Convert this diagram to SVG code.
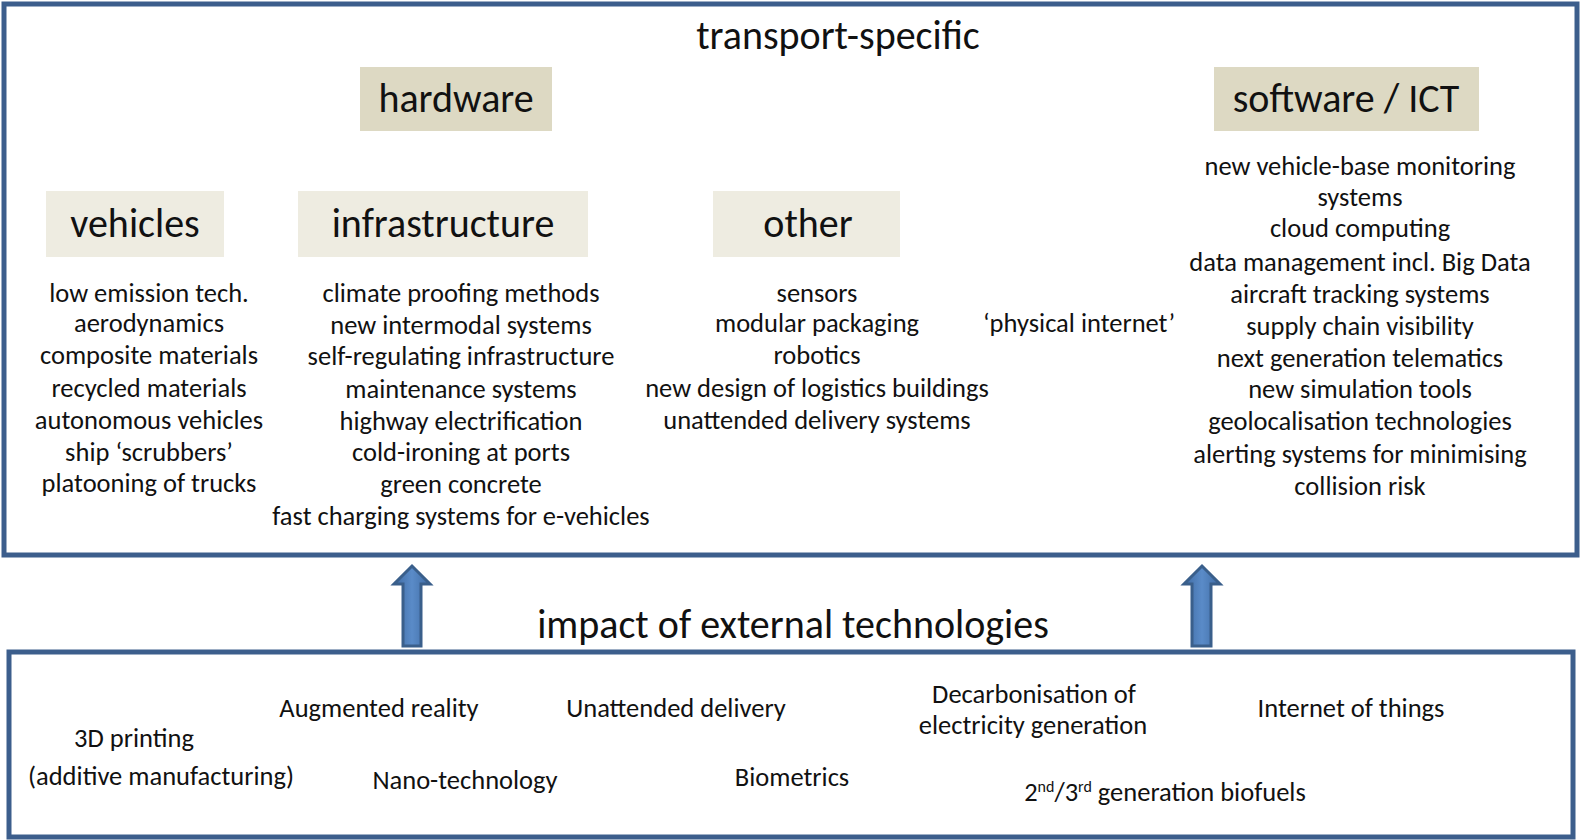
<svg xmlns="http://www.w3.org/2000/svg" width="1581" height="840" viewBox="0 0 1581 840">
<defs>
<style>
.t{font-family:Carlito,Lato,"Open Sans",sans-serif;fill:#111;text-anchor:middle}
.s{font-size:26.5px}
.h{font-size:40px}
.frame{fill:none;stroke:#3C5E8C;stroke-width:5}
.dark{fill:#DDD9C3}
.light{fill:#EEECE1}
.arrow{fill:url(#ag);stroke:#3A5F8B;stroke-width:3;stroke-linejoin:miter}
</style>
<linearGradient id="ag" x1="0" y1="0" x2="1" y2="0">
<stop offset="0" stop-color="#3F6BA3"/>
<stop offset="0.5" stop-color="#5A8BC8"/>
<stop offset="1" stop-color="#3F6BA3"/>
</linearGradient>
</defs>

<g id="transport-specific">
<rect class="frame" x="4" y="4" width="1573" height="551"/>
<text class="t h" x="838" y="49">transport-specific</text>
</g>

<g id="hardware">
<rect class="dark" x="360" y="67" width="192" height="64"/>
<text class="t h" x="456" y="112">hardware</text>
</g>

<g id="software">
<rect class="dark" x="1214" y="67" width="265" height="64"/>
<text class="t h" x="1346" y="112">software / ICT</text>
<g class="t s">
<text x="1360" y="175">new vehicle-base monitoring</text>
<text x="1360" y="206">systems</text>
<text x="1360" y="237">cloud computing</text>
<text x="1360" y="271">data management incl. Big Data</text>
<text x="1360" y="303">aircraft tracking systems</text>
<text x="1360" y="335">supply chain visibility</text>
<text x="1360" y="367">next generation telematics</text>
<text x="1360" y="398">new simulation tools</text>
<text x="1360" y="430">geolocalisation technologies</text>
<text x="1360" y="463">alerting systems for minimising</text>
<text x="1360" y="495">collision risk</text>
</g>
</g>

<g id="vehicles">
<rect class="light" x="46" y="191" width="178" height="66"/>
<text class="t h" x="135" y="237">vehicles</text>
<g class="t s">
<text x="149" y="302">low emission tech.</text>
<text x="149" y="332">aerodynamics</text>
<text x="149" y="364">composite materials</text>
<text x="149" y="397">recycled materials</text>
<text x="149" y="429">autonomous vehicles</text>
<text x="149" y="461">ship ‘scrubbers’</text>
<text x="149" y="492">platooning of trucks</text>
</g>
</g>

<g id="infrastructure">
<rect class="light" x="298" y="191" width="290" height="66"/>
<text class="t h" x="443" y="237">infrastructure</text>
<g class="t s">
<text x="461" y="302">climate proofing methods</text>
<text x="461" y="334">new intermodal systems</text>
<text x="461" y="365">self-regulating infrastructure</text>
<text x="461" y="398">maintenance systems</text>
<text x="461" y="430">highway electrification</text>
<text x="461" y="461">cold-ironing at ports</text>
<text x="461" y="493">green concrete</text>
<text x="461" y="525">fast charging systems for e-vehicles</text>
</g>
</g>

<g id="other">
<rect class="light" x="713" y="191" width="187" height="66"/>
<text class="t h" x="808" y="237">other</text>
<g class="t s">
<text x="817" y="302">sensors</text>
<text x="817" y="332">modular packaging</text>
<text x="817" y="364">robotics</text>
<text x="817" y="397">new design of logistics buildings</text>
<text x="817" y="429">unattended delivery systems</text>
</g>
</g>

<g id="physical-internet">
<text class="t s" x="1079" y="332">‘physical internet’</text>
</g>

<g id="connectors">
<path class="arrow" d="M403,646 V584 H394 L412,566 L430,584 H421 V646 Z"/>
<path class="arrow" d="M1192,646 V584 H1184 L1202,566 L1220,584 H1211 V646 Z"/>
</g>

<g id="external">
<text class="t h" x="793" y="638">impact of external technologies</text>
<rect class="frame" x="9" y="652" width="1564" height="185"/>
<g class="t s">
<text x="134" y="747">3D printing</text>
<text x="161" y="785">(additive manufacturing)</text>
<text x="379" y="717">Augmented reality</text>
<text x="465" y="789">Nano-technology</text>
<text x="676" y="717">Unattended delivery</text>
<text x="792" y="786">Biometrics</text>
<text x="1034" y="703">Decarbonisation of</text>
<text x="1033" y="734">electricity generation</text>
<text x="1351" y="717">Internet of things</text>
<text x="1165" y="801">2<tspan font-size="16" dy="-9">nd</tspan><tspan dy="9">/3</tspan><tspan font-size="16" dy="-9">rd</tspan><tspan dy="9"> generation biofuels</tspan></text>
</g>
</g>
</svg>
